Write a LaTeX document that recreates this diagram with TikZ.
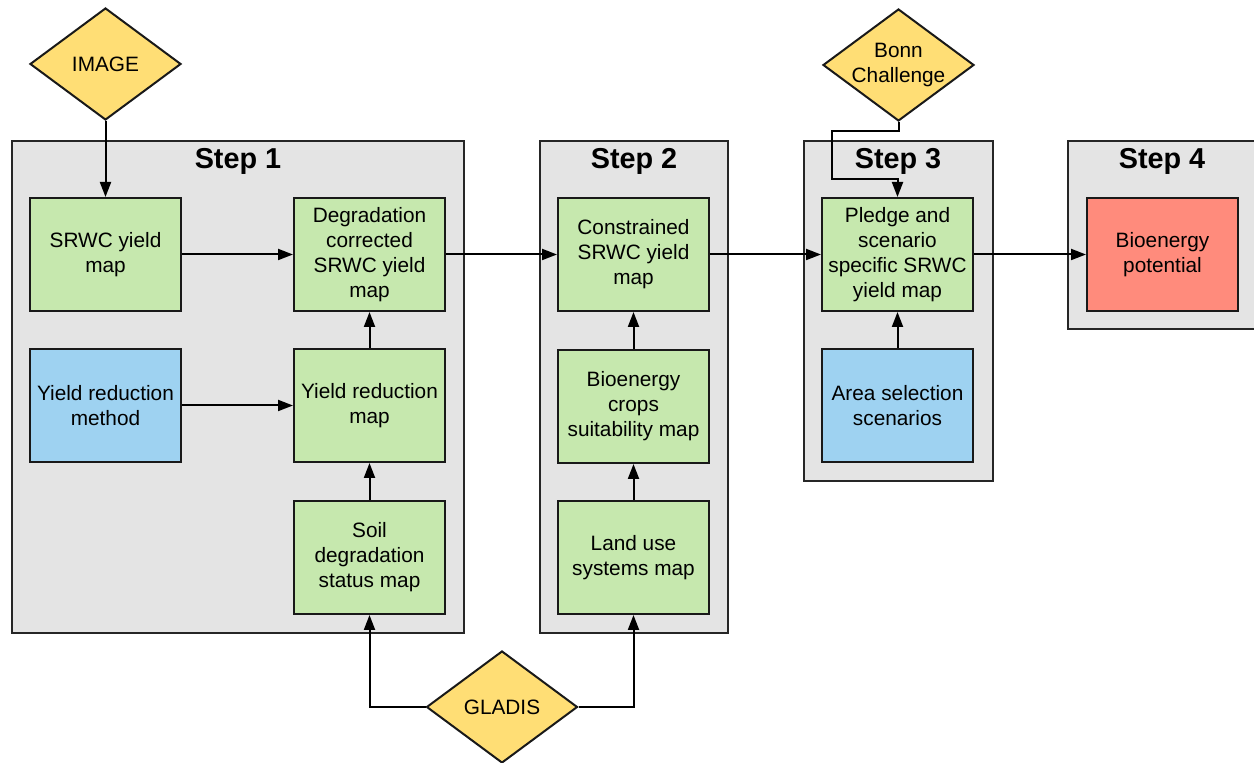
\documentclass[tikz,border=0pt]{standalone}
\usepackage{fontspec}
\setmainfont{Liberation Sans}
\usetikzlibrary{shapes.geometric,arrows.meta}
\definecolor{stepgray}{HTML}{E4E4E4}
\definecolor{mapgreen}{HTML}{C6E8AE}
\definecolor{inblue}{HTML}{9ED2F1}
\definecolor{outred}{HTML}{FF8B7C}
\definecolor{srcyellow}{HTML}{FFDE75}
% two-line label that does not enlarge its shape
\newcommand{\flatlabel}[1]{\smash{\raisebox{-2.6pt}{$\vcenter{\hbox{\begin{tabular}{@{}c@{}}#1\end{tabular}}}$}}}
\tikzset{
  x=0.5pt, y=-0.5pt,
  every node/.style={font=\fontsize{10.4}{12.5}\selectfont},
  stepframe/.style={draw=black!85, line width=1pt, fill=stepgray},
  steptitle/.style={font=\fontsize{14.4}{16}\selectfont\bfseries},
  mapbox/.style={draw=black!90, line width=1pt, fill=mapgreen,
    minimum width=75.5pt, minimum height=56.5pt, align=center, inner sep=2pt},
  inbox/.style={mapbox, fill=inblue},
  outbox/.style={mapbox, fill=outred},
  source/.style={diamond, draw=black!90, line width=1pt, fill=srcyellow,
    minimum width=75.5pt, minimum height=56pt, inner sep=0pt, align=center},
  flow/.style={draw=black, line width=1pt, -{Triangle[length=7.5pt,width=5.5pt]}},
}
\begin{document}
\begin{tikzpicture}
\useasboundingbox (0,0) rectangle (1254,763);

% step containers
\draw[stepframe] (12,141) rectangle (464,633);
\draw[stepframe] (540,141) rectangle (728,633);
\draw[stepframe] (804,141) rectangle (993,481);
\draw[stepframe] (1068,141) rectangle (1264,329);
\node[steptitle] (t1) at (238,161) {Step 1};
\node[steptitle] (t2) at (634,161) {Step 2};
\node[steptitle] (t3) at (898,161) {Step 3};
\node[steptitle] (t4) at (1162,161) {Step 4};

% data sources
\node[source] (image) at (105.5,64) {IMAGE};
\node[source] (bonn) at (898.5,65) {\flatlabel{Bonn\\Challenge}};
\node[source] (gladis) at (502,707) {GLADIS};

% step 1
\node[mapbox] (srwc) at (105.5,254.5) {SRWC yield\\map};
\node[mapbox] (degcorr) at (369.5,254.5) {Degradation\\corrected\\SRWC yield\\map};
\node[inbox] (yrmethod) at (105.5,405.5) {Yield reduction\\method};
\node[mapbox] (yrmap) at (369.5,405.5) {Yield reduction\\map};
\node[mapbox] (soil) at (369.5,557.5) {Soil\\degradation\\status map};

% step 2
\node[mapbox] (constr) at (633.5,254.5) {Constrained\\SRWC yield\\map};
\node[mapbox] (suit) at (633.5,406.5) {Bioenergy\\crops\\suitability map};
\node[mapbox] (landuse) at (633.5,557.5) {Land use\\systems map};

% step 3
\node[mapbox] (pledge) at (897.5,254.5) {Pledge and\\scenario\\specific SRWC\\yield map};
\node[inbox] (area) at (897.5,405.5) {Area selection\\scenarios};

% step 4
\node[outbox] (bioen) at (1162.5,254.5) {Bioenergy\\potential};

% connectors
\draw[flow] (image.south) -- (srwc.north);
\draw[flow] (srwc) -- (degcorr);
\draw[flow] (yrmethod) -- (yrmap);
\draw[flow] (yrmap) -- (degcorr);
\draw[flow] (soil) -- (yrmap);
\draw[flow] (degcorr) -- (constr);
\draw[flow] (suit) -- (constr);
\draw[flow] (landuse) -- (suit);
\draw[flow] (constr) -- (pledge);
\draw[flow] (area) -- (pledge);
\draw[flow] (pledge) -- (bioen);
\draw[flow] (bonn.south) -- ++(0,9) -| (832,179) -| (pledge.north);
\draw[flow] (gladis.west) -| (soil.south);
\draw[flow] (gladis.east) -| (landuse.south);
\end{tikzpicture}
\end{document}
